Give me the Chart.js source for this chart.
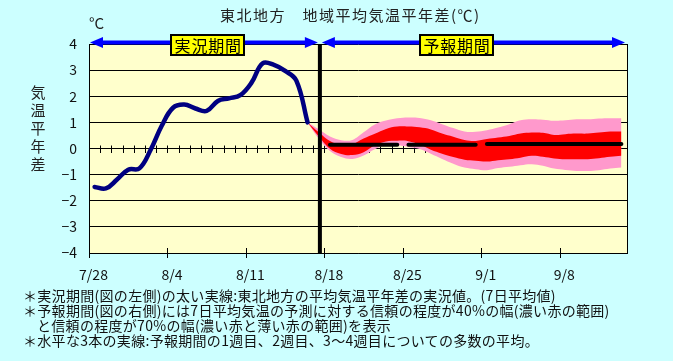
<!DOCTYPE html>
<html><head><meta charset="utf-8">
<script src="https://cdn.jsdelivr.net/npm/chart.js@4/dist/chart.umd.min.js"></script>
<style>
html,body{margin:0;padding:0;background:#CCFFFF;}
#wrap{position:relative;width:673px;height:361px;overflow:hidden;font-family:"Noto Sans CJK JP",sans-serif;color:#111;}
canvas{position:absolute;left:0;top:0;}
.t{position:absolute;white-space:nowrap;}
.box{position:absolute;box-sizing:border-box;background:#FFFF00;border:2px solid #000;height:22px;width:75px;text-align:center;font-size:16px;line-height:18px;letter-spacing:0.8px;text-indent:0.8px;color:#000;}
.fn{position:absolute;white-space:nowrap;font-size:14px;line-height:15px;letter-spacing:0.3px;color:#111;}
</style></head><body>
<div id="wrap">
<canvas id="c" width="673" height="361"></canvas>
<div class="t" style="left:220px;top:5px;font-size:15px;line-height:20px;letter-spacing:1.5px;color:#222;">東北地方　地域平均気温平年差(℃)</div>
<div class="t" style="left:89px;top:13px;font-size:15px;line-height:20px;color:#222;">°C</div>
<div class="t" style="left:30px;top:83px;font-size:15px;line-height:18px;width:16px;text-align:center;white-space:normal;color:#222;">気<br>温<br>平<br>年<br>差</div>
<div class="box" id="boxObs">実況期間</div>
<div class="box" id="boxFc">予報期間</div>
<div class="fn" style="left:23px;top:287.5px;">＊実況期間(図の左側)の太い実線:東北地方の平均気温平年差の実況値。(7日平均値)</div>
<div class="fn" style="left:23px;top:302.5px;">＊予報期間(図の右側)には7日平均気温の予測に対する信頼の程度が40%の幅(濃い赤の範囲)</div>
<div class="fn" style="left:37px;top:317.5px;">と信頼の程度が70%の幅(濃い赤と薄い赤の範囲)を表示</div>
<div class="fn" style="left:23px;top:332.5px;">＊水平な3本の実線:予報期間の1週目、2週目、3～4週目についての多数の平均。</div>
</div>
<script>
// ---- data ----
const tickDates = ['7/28','8/4','8/11','8/18','8/25','9/1','9/8'];
const obsDates = ['7/28','7/29','7/30','7/31','8/1','8/2','8/3','8/4','8/5','8/6','8/7','8/8','8/9','8/10','8/11','8/12','8/13','8/14','8/15','8/16'];
const obsValues = [-1.47,-1.53,-1.19,-0.81,-0.76,-0.05,0.88,1.56,1.68,1.53,1.44,1.82,1.92,2.04,2.52,3.26,3.20,2.97,2.60,1.00];
const fcstDates = ['8/16','8/17','8/18','8/19','8/20','8/21','8/22','8/23','8/24','8/25','8/26','8/27','8/28','8/29','8/30','8/31','9/1','9/2','9/3','9/4','9/5','9/6','9/7','9/8','9/9','9/10','9/11','9/12','9/13'];
const band70Upper = [1.00,0.74,0.46,0.32,0.33,0.62,0.92,1.07,1.16,1.19,1.17,1.08,0.93,0.78,0.65,0.64,0.70,0.80,0.93,1.08,1.12,1.10,1.06,1.08,1.12,1.12,1.15,1.16,1.16];
const band40Upper = [1.00,0.62,0.29,0.15,0.17,0.38,0.56,0.75,0.84,0.84,0.81,0.73,0.57,0.45,0.33,0.29,0.36,0.42,0.48,0.57,0.61,0.60,0.52,0.55,0.57,0.57,0.61,0.65,0.65];
const band40Lower = [1.00,0.47,-0.01,-0.21,-0.25,-0.14,0.12,0.27,0.30,0.28,0.15,-0.05,-0.20,-0.33,-0.43,-0.47,-0.50,-0.45,-0.41,-0.35,-0.28,-0.32,-0.38,-0.41,-0.41,-0.41,-0.37,-0.32,-0.28];
const band70Lower = [1.00,0.38,-0.10,-0.33,-0.40,-0.27,-0.03,0.13,0.12,0.06,-0.02,-0.20,-0.40,-0.58,-0.73,-0.79,-0.83,-0.75,-0.70,-0.64,-0.60,-0.66,-0.77,-0.82,-0.86,-0.86,-0.83,-0.77,-0.73];
const meanLabels = ['1週目','2週目','3～4週目'];
const meanStart = ['8/18','8/25','9/1'];
const meanEnd = ['8/24','8/31','9/13'];
const meanValues = [0.14,0.14,0.17];

// ---- helpers / layout constants ----
function dayOf(md){const [m,d]=md.split('/').map(Number);return (Date.UTC(2000,m-1,d)-Date.UTC(2000,6,28))/86400000;}
const pts = (dates, vals) => dates.map((d,i)=>({x:dayOf(d)+0.5, y:vals[i]}));
const X_MAX = 48;
const DIVIDER_DAY = 20.6;
const BOX_OBS_DAY = 10.6, BOX_FC_DAY = 32.8;
const FONT = '"Noto Sans CJK JP", sans-serif';

const decor = {
  id:'decor',
  beforeDraw(chart){
    const {ctx, chartArea:a} = chart;
    ctx.save(); ctx.fillStyle='#FFFFCC';
    ctx.fillRect(a.left,a.top,a.right-a.left,a.bottom-a.top); ctx.restore();
  },
  beforeDatasetsDraw(chart){
    const {ctx, scales:{x,y}} = chart; const y0 = Math.round(y.getPixelForValue(0));
    ctx.save(); ctx.strokeStyle='#000'; ctx.lineWidth=1;
    for(let d=1; d<X_MAX; d++){
      const px = Math.round(x.getPixelForValue(d))+0.5;
      ctx.beginPath(); ctx.moveTo(px,y0-3.5); ctx.lineTo(px,y0+4); ctx.stroke();
    }
    ctx.restore();
  },
  afterDatasetsDraw(chart){
    const {ctx, chartArea:a, scales:{x,y}} = chart;
    ctx.save();
    ctx.strokeStyle='#000'; ctx.lineWidth=1;
    ctx.beginPath(); ctx.moveTo(Math.round(a.right)+0.5,a.top); ctx.lineTo(Math.round(a.right)+0.5,a.bottom); ctx.stroke();
    tickDates.forEach(t=>{
      const px=Math.round(x.getPixelForValue(dayOf(t)))+0.5;
      ctx.beginPath(); ctx.moveTo(px, dayOf(t)===0 ? a.bottom : a.bottom-5); ctx.lineTo(px,a.bottom+5); ctx.stroke();
    });
    const dx = x.getPixelForValue(DIVIDER_DAY);
    ctx.lineWidth=4; ctx.beginPath(); ctx.moveTo(dx,a.top); ctx.lineTo(dx,a.bottom); ctx.stroke();
    const ay = a.top-1.5;
    const arrow = (x1,x2)=>{
      ctx.strokeStyle='#0000FF'; ctx.fillStyle='#0000FF'; ctx.lineWidth=4;
      ctx.beginPath(); ctx.moveTo(x1+8,ay); ctx.lineTo(x2-8,ay); ctx.stroke();
      ctx.beginPath(); ctx.moveTo(x1,ay); ctx.lineTo(x1+13,ay-5.5); ctx.lineTo(x1+13,ay+5.5); ctx.closePath(); ctx.fill();
      ctx.beginPath(); ctx.moveTo(x2,ay); ctx.lineTo(x2-13,ay-5.5); ctx.lineTo(x2-13,ay+5.5); ctx.closePath(); ctx.fill();
    };
    arrow(x.getPixelForValue(0)+1, dx-2);
    arrow(dx+2, x.getPixelForValue(X_MAX)-2);
    ctx.restore();
  }
};

const bandCommon = {pointRadius:0, borderWidth:0, borderColor:'rgba(0,0,0,0)', tension:0.4};
const datasets = [
  {label:'実況値', data:pts(obsDates,obsValues), borderColor:'#000080', borderWidth:4.5, pointRadius:0, tension:0.4, fill:false, order:0, borderCapStyle:'round', borderJoinStyle:'round'},
  ...meanValues.map((v,i)=>({label:meanLabels[i], data:[{x:dayOf(meanStart[i])+0.5,y:v},{x:dayOf(meanEnd[i])+0.5,y:v}], borderColor:'#000', borderWidth:4, pointRadius:0, borderCapStyle:'round', fill:false, order:1})),
  {label:'40%上限', data:pts(fcstDates,band40Upper), ...bandCommon, fill:'+1', backgroundColor:'#FF0000', order:4},
  {label:'40%下限', data:pts(fcstDates,band40Lower), ...bandCommon, fill:false, order:5},
  {label:'70%上限', data:pts(fcstDates,band70Upper), ...bandCommon, fill:'+1', backgroundColor:'#FF99CC', order:6},
  {label:'70%下限', data:pts(fcstDates,band70Lower), ...bandCommon, fill:false, order:7}
];

const chart = new Chart(document.getElementById('c'), {
  type:'line',
  data:{datasets},
  options:{
    responsive:false, animation:false, devicePixelRatio:1,
    layout:{padding:{left:0,right:46,top:44,bottom:0}},
    plugins:{legend:{display:false}, tooltip:{enabled:false}, title:{display:false}},
    events:[],
    scales:{
      x:{type:'linear', min:0, max:X_MAX,
        ticks:{stepSize:7, includeBounds:false, autoSkip:false, maxRotation:0, padding:13, labelOffset:4.5, color:'#111', font:{family:FONT,size:14},
          callback:(v)=>{const i=tickDates.findIndex(t=>dayOf(t)===v);return i>=0?tickDates[i]:'';}},
        grid:{display:false, drawTicks:false},
        border:{display:true,color:'#000',width:1},
        afterFit(s){s.height=108;}
      },
      y:{min:-4, max:4,
        ticks:{stepSize:1, padding:12, color:'#111', font:{family:FONT,size:14},
          callback:(v)=> v<0 ? '\u2212'+Math.abs(v) : String(v)},
        grid:{color:'#000', lineWidth:1, drawTicks:false},
        border:{display:true,color:'#000',width:1},
        afterFit(s){s.width=89;}
      }
    }
  },
  plugins:[decor]
});

const xs = chart.scales.x;
const bo = document.getElementById('boxObs'), bf = document.getElementById('boxFc');
bo.style.left = (xs.getPixelForValue(BOX_OBS_DAY)-37.5)+'px'; bo.style.top='34px';
bf.style.left = (xs.getPixelForValue(BOX_FC_DAY)-37.5)+'px'; bf.style.top='34px';
</script>
</body></html>
